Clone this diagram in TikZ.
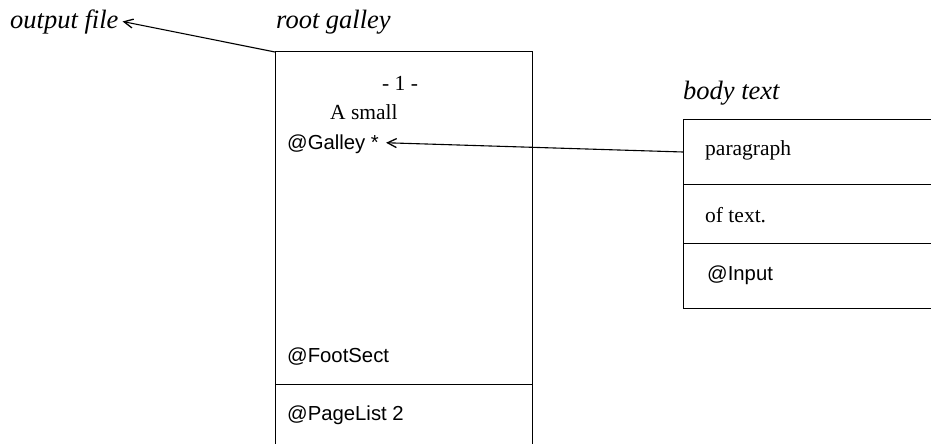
\documentclass[tikz,border=0pt]{standalone}
\usepackage{fontspec}
\setmainfont{Liberation Serif}
\setsansfont{Liberation Sans}
\usetikzlibrary{arrows.meta}
\begin{document}
\begin{tikzpicture}[x=1pt,y=-1pt,
  lbl/.style={inner sep=0pt,anchor=base west,font=\fontsize{21.5}{24}\selectfont},
  ital/.style={lbl,font=\fontsize{26.5}{30}\selectfont\itshape},
  sans/.style={inner sep=0pt,anchor=base west,font=\fontsize{20.3}{24}\sffamily},
  box/.style={line width=1pt},
  arr/.style={line width=1.1pt,-{Straight Barb[length=9pt,width=9pt,line width=1.3pt]}}]
\useasboundingbox (0,0) rectangle (931,444);
% root galley box
\draw[box] (275,444) -- (275,52) coordinate (rootTL) -- (532,52) -- (532,444);
\draw[box] (275,384) -- (532,384);
% body text box
\draw[box] (931,119) -- (683,119) -- (683,308) -- (931,308);
\draw[box] (683,184) -- (931,184);
\draw[box] (683,243) -- (931,243);
\coordinate (bodyL) at (683,152);
% labels
\node[ital] (out) at (10,29) {output file};
\node[ital] (root) at (276,29) {root galley};
\node[lbl] (pg) at (382,90) {- 1 -};
\node[lbl] (small) at (330,119) {A small};
\node[sans] (galley) at (287,149) {@Galley *};
\node[sans] (foot) at (287,362) {@FootSect};
\node[sans] (plist) at (287,420) {@PageList 2};
\node[ital] (body) at (683,99) {body text};
\node[lbl] (para) at (705,155) {paragraph};
\node[lbl] (oftext) at (705,222) {of text.};
\node[sans] (input) at (707,280) {@Input};
% connectors
\draw[arr] (rootTL) -- ([xshift=4pt,yshift=1pt]out.east);
\draw[arr] (bodyL) -- ([xshift=7pt,yshift=1pt]galley.east);
\end{tikzpicture}
\end{document}
